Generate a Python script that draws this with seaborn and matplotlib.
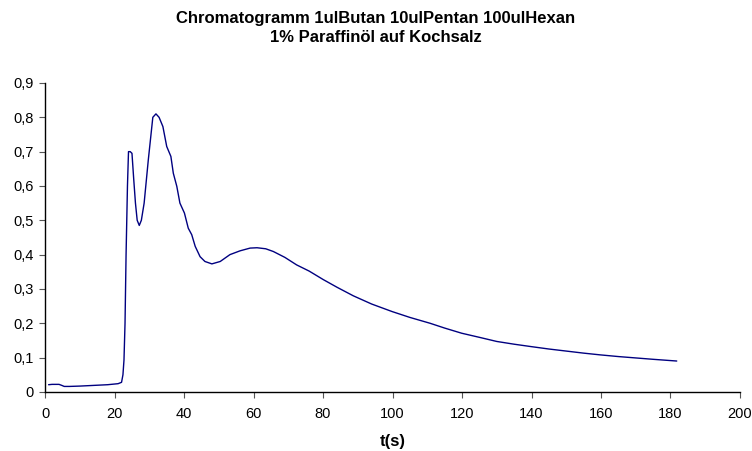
import pandas as pd
import matplotlib
matplotlib.use('Agg')
import matplotlib.pyplot as plt
import seaborn as sns
from matplotlib.ticker import FuncFormatter, MultipleLocator

# values
t_s = [1, 2, 3, 4, 4.8, 5.5, 7, 10, 14, 18, 21, 22, 22.4, 22.7, 23.0, 23.3, 23.7, 24.0,
       24.5, 25.0, 25.5, 26.0, 26.5, 27.1, 27.7, 28.5, 29.7, 31.0, 31.9, 32.8, 33.9,
       35.0, 36.2, 36.9, 37.9, 38.8, 40.1, 41.2, 42.2, 43.2, 44.6, 46.0, 48.0, 50.4,
       53.2, 56.1, 59.0, 61.0, 63.5, 65.7, 69.0, 72.4, 76.0, 80.1, 84.0, 88.7, 94.0,
       99.9, 105.0, 110.8, 115.0, 119.9, 125.0, 130.0, 135.0, 139.9, 145.0, 150.0,
       155.0, 159.7, 165.0, 170.0, 175.0, 181.8]
signal = [0.021, 0.022, 0.022, 0.022, 0.019, 0.016, 0.016, 0.017, 0.019, 0.021, 0.024,
          0.028, 0.05, 0.093, 0.2, 0.40, 0.60, 0.70, 0.70, 0.695, 0.62, 0.55, 0.50, 0.485,
          0.50, 0.55, 0.676, 0.80, 0.81, 0.80, 0.773, 0.715, 0.686, 0.637, 0.599, 0.55,
          0.521, 0.477, 0.458, 0.424, 0.394, 0.38, 0.373, 0.38, 0.40, 0.411, 0.419, 0.42,
          0.417, 0.409, 0.392, 0.37, 0.352, 0.327, 0.305, 0.28, 0.256, 0.234, 0.217,
          0.20, 0.186, 0.171, 0.159, 0.147, 0.139, 0.132, 0.125, 0.119, 0.113, 0.108,
          0.103, 0.099, 0.095, 0.09]

df = pd.DataFrame({'t': t_s, 'y': signal})

sns.set_style('white', {'text.color': 'black', 'axes.labelcolor': 'black',
                        'xtick.color': 'black', 'ytick.color': 'black'})
plt.rcParams['font.family'] = ['Liberation Sans', 'DejaVu Sans']

fig = plt.figure(figsize=(7.52, 4.51), dpi=100)
ax = fig.add_axes([0.06, 0.131, 0.924, 0.685])

sns.lineplot(data=df, x='t', y='y', ax=ax, color='#000080', linewidth=1.0)

ax.set_xlim(0, 200)
ax.set_ylim(0, 0.9)
ax.xaxis.set_major_locator(MultipleLocator(20))
ax.yaxis.set_major_locator(MultipleLocator(0.1))
ax.yaxis.set_major_formatter(FuncFormatter(lambda v, p: ('%g' % round(v, 1)).replace('.', ',')))

for side in ['top', 'right']:
    ax.spines[side].set_visible(False)
for side in ['left', 'bottom']:
    ax.spines[side].set_color('black')
    ax.spines[side].set_linewidth(1.0)
ax.tick_params(axis='both', direction='out', length=4, width=0.8, color='#555555',
               labelcolor='black', labelsize=10.5, left=True, bottom=True, pad=4)
ax.tick_params(axis='x', pad=7)

ax.set_xlabel('t(s)', fontsize=12, fontweight='bold', labelpad=9, color='black')
ax.set_ylabel('')
fig.suptitle('Chromatogramm 1ulButan 10ulPentan 100ulHexan\n1% Paraffinöl auf Kochsalz',
             fontsize=12, fontweight='bold', y=0.975, linespacing=1.3, color='black')

fig.savefig('out.png', dpi=100)
